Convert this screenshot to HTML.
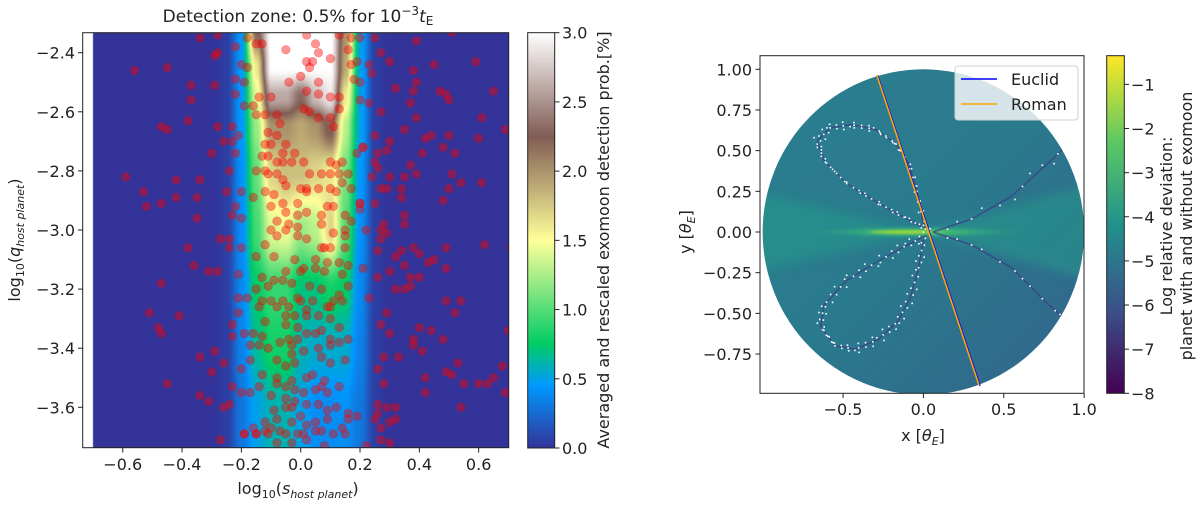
<!DOCTYPE html>
<html><head><meta charset="utf-8">
<style>
html,body{margin:0;padding:0;background:#fff;width:1200px;height:506px;overflow:hidden}
#hm{position:absolute;left:83px;top:33px}
svg{position:absolute;left:0;top:0}
text{font-family:"DejaVu Sans","Liberation Sans",sans-serif;fill:#222}
</style></head><body>
<canvas id="hm" width="426" height="415"></canvas>
<svg id="s" width="1200" height="506" xmlns="http://www.w3.org/2000/svg">
<defs>
<linearGradient id="terrain" x1="0" y1="1" x2="0" y2="0">
<stop offset="0" stop-color="#333399"/><stop offset="0.15" stop-color="#0099ff"/><stop offset="0.25" stop-color="#00cc66"/><stop offset="0.5" stop-color="#ffff99"/><stop offset="0.75" stop-color="#805c54"/><stop offset="1" stop-color="#ffffff"/>
</linearGradient>
<linearGradient id="viridis" x1="0" y1="1" x2="0" y2="0">
<stop offset="0" stop-color="#440154"/><stop offset="0.25" stop-color="#3b528b"/><stop offset="0.5" stop-color="#21918c"/><stop offset="0.75" stop-color="#5ec962"/><stop offset="1" stop-color="#fde725"/>
</linearGradient>
<linearGradient id="shade" x1="0" y1="0" x2="1" y2="1">
<stop offset="0" stop-color="#2b7f8e"/><stop offset="0.5" stop-color="#2a7a8d"/><stop offset="1" stop-color="#34628c"/>
</linearGradient>
<radialGradient id="streak" cx="0.5" cy="0.5" r="0.5">
<stop offset="0" stop-color="#8fd744"/><stop offset="0.35" stop-color="#3fbc73"/><stop offset="1" stop-color="#2a9a8a" stop-opacity="0"/>
</radialGradient>
<filter id="blur4"><feGaussianBlur stdDeviation="5"/></filter>
<filter id="blur1"><feGaussianBlur stdDeviation="1.2"/></filter>
<clipPath id="circ"><ellipse cx="923.4" cy="232" rx="160.7" ry="162.7"/></clipPath>
<clipPath id="rplot"><rect x="760" y="55.7" width="324" height="337.6"/></clipPath>
<clipPath id="lplot"><rect x="82.7" y="32.7" width="426" height="415"/></clipPath>
</defs>
<g id="left"></g>
<g id="right"></g>
</svg>
<script>
// ---------- LEFT PANEL DATA ----------
const gridS=[-0.74,-0.3,-0.25,-0.2,-0.15,-0.1,-0.05,0,0.05,0.1,0.15,0.2,0.25,0.3,0.74];
const gridQ=[-2.33,-2.45,-2.55,-2.65,-2.8,-3.0,-3.2,-3.4,-3.6,-3.74];
const gridZ=[
[0,0,0.05,0.45,2.2,3,3,3,3,3,2.0,0.5,0.05,0,0],
[0,0,0.05,0.45,1.6,3,3,3,3,3,1.9,0.5,0.05,0,0],
[0,0,0.05,0.45,1.4,2.6,2.6,2.3,2.7,2.9,1.6,0.5,0.05,0,0],
[0,0,0.05,0.45,1.2,2.0,2.0,1.9,2.0,2.3,1.3,0.5,0.05,0,0],
[0,0,0.05,0.42,1.05,1.7,1.8,1.8,1.7,1.6,1.1,0.45,0.05,0,0],
[0,0,0.05,0.4,0.95,1.4,1.45,1.2,1.3,1.7,1.0,0.42,0.05,0,0],
[0,0,0.05,0.38,0.75,0.9,0.9,0.7,0.7,0.8,0.75,0.38,0.05,0,0],
[0,0,0.05,0.35,0.65,0.8,0.8,0.6,0.55,0.55,0.55,0.35,0.05,0,0],
[0,0,0.05,0.3,0.5,0.6,0.6,0.5,0.4,0.4,0.42,0.3,0.05,0,0],
[0,0,0.05,0.3,0.5,0.6,0.6,0.5,0.4,0.4,0.4,0.3,0.05,0,0]];
const xTicksL=[-0.6,-0.4,-0.2,0.0,0.2,0.4,0.6];
const yTicksL=[-2.4,-2.6,-2.8,-3.0,-3.2,-3.4,-3.6];
const cbTicksL=[0.0,0.5,1.0,1.5,2.0,2.5,3.0];
const samplePoints=[
[-0.34,-2.35],[-0.28,-2.34],[-0.29,-2.41],[-0.28,-2.40],[-0.56,-2.46],[-0.45,-2.45],[-0.37,-2.51],[-0.29,-2.51],[-0.37,-2.56],[-0.38,-2.63],[-0.47,-2.65],[-0.45,-2.66],[-0.28,-2.65],[-0.23,-2.65],[-0.21,-2.68],[-0.26,-2.70],[-0.23,-2.70],[-0.30,-2.74],[-0.22,-2.74],[-0.24,-2.80],[-0.34,-2.83],[-0.42,-2.83],[-0.59,-2.82],[-0.53,-2.87],[-0.52,-2.92],[-0.47,-2.91],[-0.42,-2.89],[-0.35,-2.89],[-0.25,-2.87],[-0.2,-2.87],[-0.22,-2.92],[-0.23,-2.95],[-0.35,-2.96],[-0.20,-2.96],[-0.27,-3.03],[-0.24,-3.03],[-0.24,-3.06],[-0.2,-3.06],[-0.38,-3.06],[-0.36,-3.12],[-0.31,-3.14],[-0.28,-3.14],[-0.47,-3.18],[-0.21,-3.15],[-0.21,-3.23],[-0.18,-3.23],[-0.51,-3.28],[-0.41,-3.29],[-0.21,-3.28],[-0.48,-3.33],[-0.47,-3.35],[-0.23,-3.32],[-0.23,-3.36],[-0.19,-3.35],[-0.29,-3.41],[-0.34,-3.43],[-0.26,-3.45],[-0.30,-3.48],[-0.20,-3.47],[-0.17,-3.44],[-0.45,-3.52],[-0.34,-3.56],[-0.31,-3.58],[-0.26,-3.6],[-0.24,-3.59],[-0.23,-3.53],[-0.20,-3.55],[-0.27,-3.71],[-0.19,-3.69],[-0.15,-3.69],
[0.25,-2.35],[0.27,-2.40],[0.30,-2.43],[0.23,-2.44],[0.24,-2.47],[0.32,-2.52],[0.23,-2.57],[0.27,-2.60],[0.37,-2.57],[0.38,-2.53],[0.39,-2.50],[0.38,-2.46],[0.39,-2.36],[0.45,-2.44],[0.47,-2.53],[0.49,-2.54],[0.50,-2.56],[0.51,-2.33],[0.59,-2.43],[0.65,-2.53],[0.61,-2.62],[0.69,-2.66],[0.60,-2.69],[0.39,-2.62],[0.35,-2.66],[0.42,-2.69],[0.44,-2.68],[0.50,-2.68],[0.48,-2.72],[0.52,-2.74],[0.41,-2.74],[0.37,-2.78],[0.30,-2.70],[0.29,-2.73],[0.25,-2.68],[0.21,-2.72],[0.26,-2.74],[0.25,-2.77],[0.26,-2.79],[0.24,-2.82],[0.30,-2.82],[0.35,-2.82],[0.39,-2.81],[0.51,-2.81],[0.54,-2.84],[0.61,-2.84],[0.50,-2.86],[0.48,-2.90],[0.34,-2.86],[0.29,-2.86],[0.27,-2.86],[0.34,-2.89],[0.20,-2.91],[0.25,-2.91],[0.35,-2.95],[0.35,-2.98],[0.28,-2.98],[0.27,-3.0],[0.29,-3.01],[0.22,-3.00],[0.27,-3.03],[0.26,-3.07],[0.34,-3.07],[0.32,-3.09],[0.38,-3.06],[0.40,-3.08],[0.45,-3.10],[0.43,-3.11],[0.49,-3.06],[0.62,-3.05],[0.49,-3.13],[0.30,-3.14],[0.35,-3.12],[0.37,-3.16],[0.40,-3.16],[0.37,-3.19],[0.35,-3.2],[0.26,-3.16],[0.21,-3.13],[0.32,-3.2],[0.23,-3.23],[0.49,-3.24],[0.54,-3.24],[0.52,-3.28],[0.29,-3.28],[0.27,-3.32],[0.30,-3.35],[0.40,-3.33],[0.44,-3.34],[0.38,-3.37],[0.38,-3.39],[0.48,-3.37],[0.41,-3.41],[0.28,-3.43],[0.33,-3.43],[0.53,-3.45],[0.49,-3.48],[0.51,-3.49],[0.42,-3.50],[0.28,-3.52],[0.26,-3.47],[0.42,-3.55],[0.55,-3.52],[0.60,-3.52],[0.63,-3.52],[0.65,-3.50],[0.69,-3.55],[0.68,-3.46],[0.70,-3.34],[0.71,-3.06],[0.54,-3.60],[0.32,-3.60],[0.29,-3.60],[0.26,-3.59],[0.26,-3.62],[0.32,-3.64],[0.30,-3.65],[0.27,-3.67],[0.25,-3.64],[0.27,-3.71],[0.30,-3.72],[0.22,-3.73],
[-0.18,-2.35],[-0.15,-2.37],[-0.13,-2.37],[-0.22,-2.38],[-0.20,-2.44],[-0.18,-2.45],[-0.22,-2.49],[-0.19,-2.50],[-0.22,-2.54],[-0.14,-2.55],[-0.1,-2.55],[-0.16,-2.58],[-0.19,-2.58],[-0.12,-2.61],[-0.15,-2.61],[-0.08,-2.61],[-0.07,-2.64],[-0.11,-2.67],[-0.08,-2.68],[-0.12,-2.71],[-0.10,-2.71],[-0.05,-2.71],[-0.13,-2.75],[-0.11,-2.75],[-0.06,-2.74],[-0.02,-2.74],[-0.08,-2.77],[-0.06,-2.77],[-0.03,-2.77],[0.01,-2.77],[-0.12,-2.80],[-0.15,-2.80],[-0.11,-2.81],[-0.06,-2.83],[-0.08,-2.81],[-0.12,-2.87],[-0.09,-2.88],[-0.05,-2.85],[0.0,-2.86],[0.02,-2.86],[0.02,-2.87],[0.06,-2.86],[0.1,-2.86],[0.12,-2.87],[0.14,-2.84],[0.13,-2.81],[0.10,-2.81],[0.07,-2.81],[0.03,-2.81],[0.10,-2.77],[0.12,-2.78],[0.14,-2.77],[0.16,-2.81],[-0.16,-2.89],[-0.1,-2.92],[-0.06,-2.91],[-0.05,-2.94],[-0.01,-2.95],[0.02,-2.94],[-0.01,-2.91],[0.09,-2.92],[0.11,-2.92],[0.07,-2.95],[0.15,-2.95],[-0.08,-2.97],[-0.04,-2.98],[-0.1,-3.0],[-0.08,-3.02],[-0.05,-3.0],[-0.01,-3.02],[-0.01,-2.99],[0.02,-3.03],[0.07,-2.98],[0.11,-3.01],[0.15,-3.02],[0.15,-3.06],[0.10,-3.06],[0.08,-3.06],[0.07,-3.06],[-0.12,-3.05],[-0.15,-3.09],[-0.09,-3.09],[-0.02,-3.10],[0.05,-3.10],[0.09,-3.11],[0.13,-3.11],[0.16,-3.12],[0.14,-3.15],[0.08,-3.14],[0.05,-3.13],[0.01,-3.13],[0.0,-3.14],[-0.05,-3.14],[-0.06,-3.17],[-0.03,-3.18],[-0.09,-3.17],[-0.13,-3.16],[-0.15,-3.2],[-0.11,-3.19],[0.03,-3.19],[0.07,-3.20],[0.16,-3.19],[0.13,-3.22],[0.11,-3.24],[0.14,-3.24],[0.10,-3.26],[0.04,-3.24],[0.0,-3.24],[-0.04,-3.26],[-0.06,-3.24],[-0.1,-3.24],[-0.14,-3.26],[-0.13,-3.24],[-0.01,-3.23],[-0.08,-3.26],[0.02,-3.27],[0.09,-3.26],[-0.05,-3.29],[-0.02,-3.29],[0.02,-3.29],[0.06,-3.29],[0.10,-3.30],[-0.12,-3.31],[-0.05,-3.32],[-0.01,-3.33],[0.02,-3.35],[0.05,-3.35],[0.07,-3.34],[0.10,-3.37],[0.13,-3.33],[-0.13,-3.36],[-0.16,-3.35],[-0.17,-3.39],[-0.14,-3.39],[-0.11,-3.40],[-0.07,-3.38],[-0.04,-3.37],[-0.01,-3.37],[-0.03,-3.39],[0.01,-3.41],[0.06,-3.40],[0.10,-3.39],[0.13,-3.38],[0.16,-3.37],[-0.08,-3.44],[-0.03,-3.42],[-0.05,-3.46],[-0.02,-3.45],[0.07,-3.43],[0.10,-3.45],[0.15,-3.44],[-0.08,-3.50],[-0.13,-3.49],[-0.03,-3.51],[0.02,-3.50],[0.04,-3.49],[0.08,-3.51],[0.13,-3.53],[0.09,-3.55],[0.07,-3.53],[0.05,-3.54],[0.01,-3.55],[-0.02,-3.54],[-0.05,-3.53],[-0.08,-3.52],[-0.14,-3.53],[-0.17,-3.55],[-0.1,-3.56],[-0.05,-3.57],[-0.02,-3.58],[-0.03,-3.60],[-0.05,-3.60],[-0.09,-3.61],[0.02,-3.59],[0.06,-3.59],[0.09,-3.64],[0.09,-3.61],[0.12,-3.60],[0.16,-3.62],[0.19,-3.63],[0.16,-3.64],[-0.12,-3.65],[-0.08,-3.64],[-0.03,-3.65],[0.02,-3.66],[0.0,-3.63],[0.05,-3.65],[-0.16,-3.67],[-0.12,-3.68],[-0.10,-3.67],[-0.07,-3.68],[-0.05,-3.69],[-0.01,-3.69],[0.01,-3.69],[0.05,-3.68],[0.07,-3.68],[0.11,-3.69],[0.15,-3.69],[0.14,-3.67],[0.02,-3.71],[-0.15,-3.69],[-0.11,-3.69],[-0.19,-3.69],[-0.03,-3.72],[0.08,-3.73],[-0.08,-3.72],
[-0.05,-2.39],[0.02,-2.34],[0.05,-2.37],[0.06,-2.40],[0.1,-2.42],[0.02,-2.43],[0.04,-2.43],[0.03,-2.45],[0.0,-2.48],[-0.04,-2.50],[0.06,-2.50],[0.06,-2.54],[0.02,-2.53],[0.1,-2.55],[0.13,-2.55],[0.13,-2.59],[0.10,-2.62],[0.11,-2.65],[0.06,-2.62],[0.01,-2.59],[0.03,-2.60],[0.17,-2.44],[0.16,-2.39],[0.17,-2.35],[0.13,-2.34],[0.20,-2.35],[0.19,-2.43],[0.18,-2.49],[0.20,-2.50],[0.20,-2.56],[0.19,-2.74],[0.21,-2.72],[0.17,-2.86],[0.17,-2.97],[0.15,-3.0],[0.20,-2.91],[0.20,-2.93]];
// ---------- RIGHT PANEL DATA ----------
const euclidX=[-0.285,0.352];
const euclidY=[0.962,-0.945];
const romanX=[-0.29,0.345];
const romanY=[0.965,-0.94];
const xTicksR=[-0.5,0.0,0.5,1.0];
const yTicksR=[1.0,0.75,0.5,0.25,0.0,-0.25,-0.5,-0.75];
const cbTicksR=[-1,-2,-3,-4,-5,-6,-7,-8];
const causticUpper=[[0.02,0.02],[-0.12,0.09],[-0.3,0.19],[-0.48,0.3],[-0.62,0.44],[-0.66,0.56],[-0.58,0.64],[-0.45,0.66],[-0.3,0.63],[-0.18,0.55],[-0.09,0.42],[-0.04,0.25],[0.0,0.05]];
const causticLower=[[0.02,-0.02],[-0.12,-0.09],[-0.3,-0.19],[-0.48,-0.3],[-0.62,-0.45],[-0.64,-0.58],[-0.55,-0.7],[-0.42,-0.72],[-0.28,-0.66],[-0.16,-0.55],[-0.08,-0.4],[-0.03,-0.22],[0.0,-0.05]];
const causticRightUp=[[0.06,0.0],[0.3,0.08],[0.55,0.22],[0.75,0.4],[0.88,0.52]];
const causticRightDown=[[0.06,0.0],[0.3,-0.08],[0.55,-0.22],[0.75,-0.42],[0.9,-0.55]];

const NS='http://www.w3.org/2000/svg';
const FS=16;
function mk(parent,tag,attrs,txt){const e=document.createElementNS(NS,tag);for(const k in attrs)e.setAttribute(k,attrs[k]);if(txt!==undefined)e.textContent=txt;parent.appendChild(e);return e;}
function fmtMinus(v,d){const s=Math.abs(v).toFixed(d);return (v<0?'\u2212':'')+s;}

// ---------- LEFT axes ----------
const sx=s=>300.7+s*296.6;
const qy=q=>52.7+(-2.4-q)*295.5;
const L={x0:82.7,y0:32.7,w:426,h:415};
const tcol=[[0,[51,51,153]],[0.45,[0,153,255]],[0.75,[0,204,102]],[1.5,[255,255,153]],[2.25,[128,92,84]],[3,[255,255,255]]];
function cmapT(v){v=Math.max(0,Math.min(3,v));for(let i=1;i<tcol.length;i++){if(v<=tcol[i][0]){const a=tcol[i-1],b=tcol[i];const t=(v-a[0])/(b[0]-a[0]);return a[1].map((c,k)=>c+(b[1][k]-c)*t);}}return tcol[tcol.length-1][1];}
function idx(arr,v,desc){for(let i=0;i<arr.length-1;i++){const a=arr[i],b=arr[i+1];if(desc?(v<=a&&v>=b):(v>=a&&v<=b))return [i,(v-a)/(b-a)];}return v<(desc?arr[arr.length-1]:arr[0])?(desc?[arr.length-2,1]:[0,0]):(desc?[0,0]:[arr.length-2,1]);}
function sm(t){return t*t*(3-2*t);}
(function(){const c=document.getElementById('hm');const ctx=c.getContext('2d');const img=ctx.createImageData(L.w,L.h);
for(let py=0;py<L.h;py++){const q=-2.4-((L.y0+py+0.5)-52.7)/295.5;const [qi,qt0]=idx(gridQ,q,true);const qt=sm(qt0);
for(let px=0;px<L.w;px++){const s=((L.x0+px+0.5)-300.7)/296.6;const o=(py*L.w+px)*4;
if(s<-0.7){img.data[o]=255;img.data[o+1]=255;img.data[o+2]=255;img.data[o+3]=255;continue;}
const [si,st0]=idx(gridS,s,false);const st=sm(st0);
const z00=gridZ[qi][si],z01=gridZ[qi][si+1],z10=gridZ[qi+1][si],z11=gridZ[qi+1][si+1];
const z=(z00*(1-st)+z01*st)*(1-qt)+(z10*(1-st)+z11*st)*qt;const col=cmapT(z);
img.data[o]=col[0];img.data[o+1]=col[1];img.data[o+2]=col[2];img.data[o+3]=255;}}
ctx.putImageData(img,0,0);})();
const gl=document.getElementById('left');
const ptsG=mk(gl,'g',{'clip-path':'url(#lplot)'});


samplePoints.forEach(p=>{const c=mk(ptsG,'circle',{cx:sx(p[0]),cy:qy(p[1]),r:4.3,fill:'rgba(255,0,0,0.42)',stroke:'rgba(220,0,0,0.35)','stroke-width':0.6});

});
const lf=mk(gl,'rect',{x:L.x0,y:L.y0,width:L.w,height:L.h,fill:'none',stroke:'#222','stroke-width':1});


xTicksL.forEach(v=>{const x=sx(v);mk(gl,'line',{x1:x,x2:x,y1:447.7,y2:452.5,stroke:'#222'});
const t=mk(gl,'text',{x:x,y:470,'font-size':FS,'text-anchor':'middle'},fmtMinus(v,1));

});
yTicksL.forEach(v=>{const y=qy(v);mk(gl,'line',{x1:78,x2:82.7,y1:y,y2:y,stroke:'#222'});
const t=mk(gl,'text',{x:75,y:y+6,'font-size':FS,'text-anchor':'end'},fmtMinus(v,1));

});
const cbl=mk(gl,'rect',{x:527.7,y:32.7,width:27,height:415.3,fill:'url(#terrain)',stroke:'#222','stroke-width':1});


const cby=v=>448-v/3*415.3;
cbTicksL.forEach(v=>{const y=cby(v);mk(gl,'line',{x1:554.7,x2:559.5,y1:y,y2:y,stroke:'#222'});
const t=mk(gl,'text',{x:562,y:y+6,'font-size':FS},v.toFixed(1));

});
const cbt=mk(gl,'text',{x:0,y:0,'font-size':FS,'text-anchor':'middle',transform:'translate(609,240) rotate(-90)'},'Averaged and rescaled exomoon detection prob.[%]');


const tt=mk(gl,'text',{x:298,y:22,'font-size':17,'text-anchor':'middle'});


mk(tt,'tspan',{},'Detection zone: 0.5% for 10');
mk(tt,'tspan',{dy:-7,'font-size':12},'\u22123');
mk(tt,'tspan',{dy:7,'font-style':'italic'},'t');
mk(tt,'tspan',{dy:3,'font-size':12},'E');
const xl=mk(gl,'text',{x:298,y:494,'font-size':FS,'text-anchor':'middle'});


mk(xl,'tspan',{},'log');mk(xl,'tspan',{dy:4,'font-size':11},'10');mk(xl,'tspan',{dy:-4},'(');mk(xl,'tspan',{'font-style':'italic'},'s');mk(xl,'tspan',{dy:4,'font-size':11,'font-style':'italic'},'host planet');mk(xl,'tspan',{dy:-4},')');
const yl=mk(gl,'text',{x:0,y:0,'font-size':FS,'text-anchor':'middle',transform:'translate(20,240) rotate(-90)'});


mk(yl,'tspan',{},'log');mk(yl,'tspan',{dy:4,'font-size':11},'10');mk(yl,'tspan',{dy:-4},'(');mk(yl,'tspan',{'font-style':'italic'},'q');mk(yl,'tspan',{dy:4,'font-size':11,'font-style':'italic'},'host planet');mk(yl,'tspan',{dy:-4},')');

// ---------- RIGHT ----------
const X=x=>923.4+x*160.7;
const Y=y=>232-y*162.7;
const gr=document.getElementById('right');
const pg=mk(gr,'g',{'clip-path':'url(#rplot)'});
const disk=mk(pg,'g',{'clip-path':'url(#circ)'});


mk(disk,'rect',{x:760,y:60,width:330,height:340,fill:'url(#shade)'});
mk(disk,'path',{d:`M${X(0)},${Y(0)} L${X(-1.05)},${Y(0.25)} L${X(-1.05)},${Y(-0.25)} Z M${X(0)},${Y(0)} L${X(1.05)},${Y(0.3)} L${X(1.05)},${Y(-0.3)} Z`,fill:'#269a8a',opacity:0.55,filter:'url(#blur4)'});
mk(disk,'ellipse',{cx:X(-0.05),cy:Y(0),rx:110,ry:6,fill:'url(#streak)',filter:'url(#blur1)'});
mk(disk,'ellipse',{cx:X(-0.15),cy:Y(0),rx:30,ry:2,fill:'#b5de2b',opacity:0.6,filter:'url(#blur1)'});
function pathOf(pts){return pts.map((p,i)=>(i?'L':'M')+X(p[0]).toFixed(1)+','+Y(p[1]).toFixed(1)).join(' ');}
[[causticUpper,'caustic-upper',1],[causticLower,'caustic-lower',1],[causticRightUp,'caustic-right-up',0.4],[causticRightDown,'caustic-right-down',0.4]].forEach(([arr,nm,dens])=>{
const p=mk(disk,'path',{d:pathOf(arr),fill:'none',stroke:'#3b3f86','stroke-width':1.5,opacity:0.75,'stroke-linejoin':'round'});


for(let i=0;i<arr.length-1;i++){const a=arr[i],b=arr[i+1];const n=Math.round(8*dens);for(let k=0;k<n;k++){const t=k/n;const off=((i*7+k*3)%5-2)*0.01;
mk(disk,'rect',{x:X(a[0]+(b[0]-a[0])*t+off)-0.8,y:Y(a[1]+(b[1]-a[1])*t-off)-0.8,width:1.6,height:1.6,fill:'#fff'});}}
});
const eu=mk(pg,'line',{x1:X(euclidX[0]),y1:Y(euclidY[0]),x2:X(euclidX[1]),y2:Y(euclidY[1]),stroke:'#0000ff','stroke-width':1.6});


const ro=mk(pg,'line',{x1:X(romanX[0]),y1:Y(romanY[0]),x2:X(romanX[1]),y2:Y(romanY[1]),stroke:'#ffa500','stroke-width':1.6});


const rf=mk(gr,'rect',{x:760,y:55.7,width:324,height:337.6,fill:'none',stroke:'#222','stroke-width':1});


xTicksR.forEach(v=>{const x=X(v);mk(gr,'line',{x1:x,x2:x,y1:393.3,y2:398,stroke:'#222'});
const t=mk(gr,'text',{x:x,y:415,'font-size':FS,'text-anchor':'middle'},fmtMinus(v,1));

});
yTicksR.forEach(v=>{const y=Y(v);mk(gr,'line',{x1:755.5,x2:760,y1:y,y2:y,stroke:'#222'});
const t=mk(gr,'text',{x:752,y:y+6,'font-size':FS,'text-anchor':'end'},fmtMinus(v,2));

});
const rxl=mk(gr,'text',{x:923,y:441,'font-size':FS,'text-anchor':'middle'});


mk(rxl,'tspan',{},'x [');mk(rxl,'tspan',{'font-style':'italic'},'\u03b8');mk(rxl,'tspan',{dy:4,'font-size':11,'font-style':'italic'},'E');mk(rxl,'tspan',{dy:-4},']');
const ryl=mk(gr,'text',{x:0,y:0,'font-size':FS,'text-anchor':'middle',transform:'translate(691,232) rotate(-90)'});


mk(ryl,'tspan',{},'y [');mk(ryl,'tspan',{'font-style':'italic'},'\u03b8');mk(ryl,'tspan',{dy:4,'font-size':11,'font-style':'italic'},'E');mk(ryl,'tspan',{dy:-4},']');
const lg=mk(gr,'g',{});


mk(lg,'rect',{x:955,y:66,width:123,height:54,rx:3,fill:'rgba(255,255,255,0.8)',stroke:'#d0d0d0'});
mk(lg,'line',{x1:961,x2:997,y1:79,y2:79,stroke:'#0000ff','stroke-width':1.6});
const le1=mk(lg,'text',{x:1011,y:85,'font-size':FS},'Euclid');


mk(lg,'line',{x1:961,x2:997,y1:104,y2:104,stroke:'#ffa500','stroke-width':1.6});
const le2=mk(lg,'text',{x:1011,y:110,'font-size':FS},'Roman');


const cbr=mk(gr,'rect',{x:1106.7,y:55.7,width:17.6,height:337.6,fill:'url(#viridis)',stroke:'#222','stroke-width':1});


const cry=v=>393.3-(v+8)*(337.6/7.65);
cbTicksR.forEach(v=>{const y=cry(v);mk(gr,'line',{x1:1124.3,x2:1129,y1:y,y2:y,stroke:'#222'});
const t=mk(gr,'text',{x:1131,y:y+6,'font-size':FS},fmtMinus(v,0));

});
const c1=mk(gr,'text',{x:0,y:0,'font-size':FS,'text-anchor':'middle',transform:'translate(1172,226) rotate(-90)'},'Log relative deviation:');


const c2=mk(gr,'text',{x:0,y:0,'font-size':FS,'text-anchor':'middle',transform:'translate(1192,226) rotate(-90)'},'planet with and without exomoon');


</script>
</body></html>
